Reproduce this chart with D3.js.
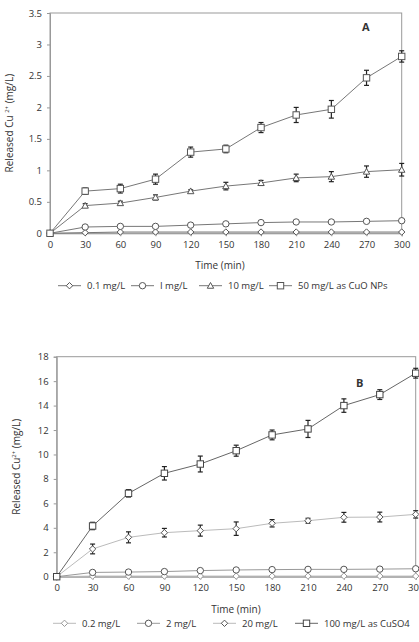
<!DOCTYPE html>
<html>
<head>
<meta charset="utf-8">
<title>Released Cu2+</title>
<style>
  body { margin: 0; background: #fff; }
  text { font-family: "Open Sans", "Noto Sans", sans-serif; fill: #333; }
</style>
</head>
<body>
<script src="https://cdn.jsdelivr.net/npm/d3@7"></script>
<script>
// time points (min)
var times = [0, 30, 60, 90, 120, 150, 180, 210, 240, 270, 300];

// panel A (CuO NPs)
var namesA = ["0.1 mg/L", "I mg/L", "10 mg/L", "50 mg/L as CuO NPs"];
var a01  = [0, 0.01, 0.02, 0.02, 0.02, 0.02, 0.02, 0.02, 0.02, 0.02, 0.02];
var a1   = [0, 0.10, 0.11, 0.11, 0.13, 0.15, 0.17, 0.18, 0.18, 0.19, 0.20];
var a10  = [0, 0.44, 0.48, 0.57, 0.67, 0.75, 0.80, 0.88, 0.90, 0.98, 1.01];
var a50  = [0, 0.67, 0.71, 0.86, 1.29, 1.34, 1.68, 1.88, 1.97, 2.47, 2.81];
var eA01 = [0, 0.005, 0.005, 0.005, 0.005, 0.005, 0.005, 0.005, 0.005, 0.005, 0.005];
var eA1  = [0, 0.01, 0.01, 0.01, 0.01, 0.01, 0.01, 0.01, 0.01, 0.01, 0.02];
var eA10 = [0, 0.03, 0.03, 0.04, 0.02, 0.06, 0.04, 0.06, 0.08, 0.09, 0.10];
var eA50 = [0, 0.05, 0.07, 0.08, 0.08, 0.06, 0.08, 0.12, 0.14, 0.12, 0.09];
var ticksA = [0, 0.5, 1, 1.5, 2, 2.5, 3, 3.5];

// panel B (CuSO4)
var namesB = ["0.2 mg/L", "2 mg/L", "20 mg/L", "100 mg/L as CuSO4"];
var b02  = [0, 0.05, 0.05, 0.05, 0.05, 0.05, 0.05, 0.05, 0.05, 0.05, 0.05];
var b2   = [0, 0.35, 0.38, 0.42, 0.50, 0.55, 0.58, 0.60, 0.60, 0.62, 0.65];
var b20  = [0, 2.27, 3.22, 3.60, 3.77, 3.93, 4.37, 4.58, 4.86, 4.88, 5.10];
var b100 = [0, 4.15, 6.82, 8.46, 9.22, 10.31, 11.60, 12.09, 14.00, 14.90, 16.65];
var eB02  = [0, 0.02, 0.02, 0.02, 0.02, 0.02, 0.02, 0.02, 0.02, 0.02, 0.02];
var eB2   = [0, 0.10, 0.10, 0.10, 0.10, 0.10, 0.10, 0.10, 0.10, 0.10, 0.10];
var eB20  = [0, 0.40, 0.45, 0.35, 0.45, 0.55, 0.30, 0.20, 0.40, 0.40, 0.30];
var eB100 = [0, 0.30, 0.30, 0.55, 0.65, 0.45, 0.40, 0.70, 0.55, 0.40, 0.40];
var ticksB = [0, 2, 4, 6, 8, 10, 12, 14, 16, 18];

var svg = d3.select("body").append("svg")
  .attr("width", 419)
  .attr("height", 642);

function drawMarker(g, shape, x, y, stroke) {
  var s = 3.2;
  if (shape == "diamond") {
    g.append("path").attr("d", "M" + x + "," + (y - s) + "L" + (x + s) + "," + y + "L" + x + "," + (y + s) + "L" + (x - s) + "," + y + "Z")
      .attr("fill", "#fff").attr("stroke", stroke);
  } else if (shape == "circle") {
    g.append("circle").attr("cx", x).attr("cy", y).attr("r", 3.2)
      .attr("fill", "#fff").attr("stroke", stroke);
  } else if (shape == "triangle") {
    g.append("path").attr("d", "M" + x + "," + (y - s) + "L" + (x + s) + "," + (y + s * 0.8) + "L" + (x - s) + "," + (y + s * 0.8) + "Z")
      .attr("fill", "#fff").attr("stroke", stroke);
  } else {
    g.append("rect").attr("x", x - s).attr("y", y - s).attr("width", 2 * s).attr("height", 2 * s)
      .attr("fill", "#fff").attr("stroke", stroke);
  }
}

function panel(cfg) {
  var x = d3.scaleLinear().domain([0, 300]).range([cfg.left, cfg.right]);
  var y = d3.scaleLinear().domain([0, cfg.ymax]).range([cfg.bottom, cfg.top]);
  var g = svg.append("g");

  // frame
  g.append("rect")
    .attr("x", cfg.left).attr("y", cfg.top)
    .attr("width", cfg.right - cfg.left).attr("height", cfg.bottom - cfg.top)
    .attr("fill", "none").attr("stroke", "#999");

  var xAxis = g.append("g").attr("transform", "translate(0," + cfg.bottom + ")")
    .call(d3.axisBottom(x).tickValues(times).tickSize(3).tickPadding(5).tickFormat(function(d) { return d; }));
  var yAxis = g.append("g").attr("transform", "translate(" + cfg.left + ",0)")
    .call(d3.axisLeft(y).tickValues(cfg.ticks).tickSize(3).tickPadding(5).tickFormat(function(d) { return d; }));
  [xAxis, yAxis].forEach(function(ax) {
    ax.select(".domain").attr("stroke", "#999");
    ax.selectAll(".tick line").attr("stroke", "#999");
    ax.selectAll(".tick text").attr("font-size", 9.5).attr("fill", "#333")
      .attr("font-family", "'Open Sans', sans-serif");
  });

  // series
  cfg.series.forEach(function(s) {
    var pts = times.map(function(t, i) { return [t, s.values[i], s.err[i]]; });
    g.append("path")
      .datum(pts)
      .attr("fill", "none").attr("stroke", s.color).attr("stroke-width", 1)
      .attr("d", d3.line().x(function(d) { return x(d[0]); }).y(function(d) { return y(d[1]); }));
    pts.forEach(function(d) {
      if (d[2] > 0) {
        var y1 = y(d[1] + d[2]), y2 = y(d[1] - d[2]), cx = x(d[0]);
        g.append("line").attr("x1", cx).attr("x2", cx).attr("y1", y1).attr("y2", y2)
          .attr("stroke", "#222").attr("stroke-width", 1.2);
        g.append("line").attr("x1", cx - 2.5).attr("x2", cx + 2.5).attr("y1", y1).attr("y2", y1)
          .attr("stroke", "#222").attr("stroke-width", 1.2);
        g.append("line").attr("x1", cx - 2.5).attr("x2", cx + 2.5).attr("y1", y2).attr("y2", y2)
          .attr("stroke", "#222").attr("stroke-width", 1.2);
      }
      drawMarker(g, s.shape, x(d[0]), y(d[1]), s.mcolor);
    });
  });

  // panel letter
  g.append("text").attr("x", cfg.letterX).attr("y", cfg.letterY)
    .attr("font-size", 11).attr("font-weight", "bold").attr("fill", "#111")
    .attr("font-family", "'Liberation Sans', sans-serif")
    .text(cfg.letter);

  // axis titles
  g.append("text").attr("x", cfg.xTitleX).attr("y", cfg.bottom + 36)
    .attr("text-anchor", "middle").attr("font-size", 10).text("Time (min)");
  var yt = g.append("text")
    .attr("transform", "translate(" + cfg.yTitleX + "," + ((cfg.top + cfg.bottom) / 2) + ") rotate(-90)")
    .attr("text-anchor", "middle").attr("font-size", 10);
  yt.append("tspan").text("Released Cu" + cfg.gap);
  yt.append("tspan").attr("font-size", 6).attr("dy", -4).text("2+");
  yt.append("tspan").attr("dy", 4).text(" (mg/L)");

  // legend
  cfg.series.forEach(function(s, i) {
    var lx = cfg.legendX[i], ly = cfg.legendY;
    g.append("line").attr("x1", lx).attr("x2", lx + 23).attr("y1", ly).attr("y2", ly)
      .attr("stroke", s.color);
    drawMarker(g, s.shape, lx + 11.5, ly, s.mcolor);
    g.append("text").attr("x", lx + 29).attr("y", ly + 3.5)
      .attr("font-size", 9.5).text(s.name);
  });
}

panel({
  left: 50, right: 401.7, top: 13, bottom: 233.3, ymax: 3.5, ticks: ticksA,
  letter: "A", letterX: 362, letterY: 31, xTitleX: 220, yTitleX: 13, gap: " ",
  legendY: 285.7, legendX: [58, 131, 199, 269],
  series: [
    { name: namesA[0], values: a01, err: eA01, shape: "diamond", color: "#777", mcolor: "#555" },
    { name: namesA[1], values: a1, err: eA1, shape: "circle", color: "#777", mcolor: "#555" },
    { name: namesA[2], values: a10, err: eA10, shape: "triangle", color: "#777", mcolor: "#555" },
    { name: namesA[3], values: a50, err: eA50, shape: "square", color: "#777", mcolor: "#555" }
  ]
});

panel({
  left: 56.7, right: 415.7, top: 356.7, bottom: 576.7, ymax: 18, ticks: ticksB,
  letter: "B", letterX: 356, letterY: 387, xTitleX: 236, yTitleX: 20, gap: "",
  legendY: 623.3, legendX: [53, 137, 213, 295],
  series: [
    { name: namesB[0], values: b02, err: eB02, shape: "diamond", color: "#bbb", mcolor: "#999" },
    { name: namesB[1], values: b2, err: eB2, shape: "circle", color: "#999", mcolor: "#555" },
    { name: namesB[2], values: b20, err: eB20, shape: "diamond", color: "#bbb", mcolor: "#555" },
    { name: namesB[3], values: b100, err: eB100, shape: "square", color: "#666", mcolor: "#444" }
  ]
});
</script>
</body>
</html>
